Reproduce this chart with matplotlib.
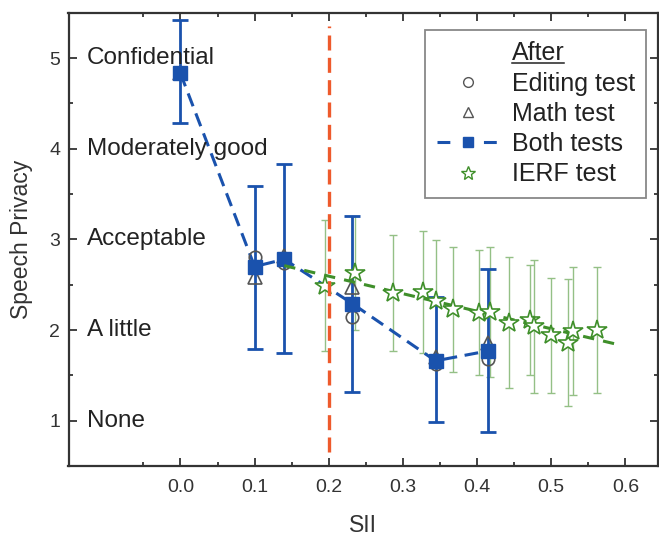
import matplotlib
matplotlib.use('Agg')
import matplotlib.pyplot as plt
from matplotlib.lines import Line2D
from matplotlib.ticker import FixedLocator, MultipleLocator, FormatStrFormatter
from matplotlib.transforms import IdentityTransform

plt.rcParams['font.family'] = ['Liberation Sans', 'DejaVu Sans']

# --------------------------------------------------
# DATA

# Both tests: mean with error bar ends
both_x = [0.0, 0.1, 0.14, 0.232, 0.344, 0.415]
both_y = [4.83, 2.70, 2.78, 2.29, 1.66, 1.77]
both_lo = [4.28, 1.79, 1.75, 1.32, 0.98, 0.88]
both_hi = [5.42, 3.59, 3.83, 3.26, 2.36, 2.67]

# Single tests at the same SII values
editing_y = [4.83, 2.81, 2.74, 2.14, 1.62, 1.68]
math_y = [4.83, 2.59, 2.82, 2.47, 1.70, 1.86]

# IERF test
ierf_x = [0.195, 0.235, 0.287, 0.327, 0.344, 0.368, 0.402, 0.417,
          0.443, 0.472, 0.477, 0.500, 0.523, 0.530, 0.562]
ierf_y = [2.49, 2.63, 2.41, 2.42, 2.32, 2.23, 2.19, 2.20,
          2.08, 2.11, 2.04, 1.94, 1.86, 1.99, 2.00]
ierf_err = [0.72, 0.63, 0.64, 0.67, 0.67, 0.69, 0.69, 0.72,
            0.72, 0.61, 0.73, 0.63, 0.70, 0.71, 0.70]

# IERF trend line end points
fit_x = [0.14, 0.595]
fit_y = [2.71, 1.83]

sii_limit = 0.2
privacy_levels = [1, 2, 3, 4, 5]
privacy_names = ['None', 'A little', 'Acceptable', 'Moderately good', 'Confidential']
x_major = [0.0, 0.1, 0.2, 0.3, 0.4, 0.5, 0.6]
x_minor = [-0.05, 0.05, 0.15, 0.25, 0.35, 0.45, 0.55]

# --------------------------------------------------

blue = '#1a52ad'
green = '#3f8f2a'
light_green = '#94c086'
red = '#ee5a2c'
grey = '#555555'
dark = '#333333'

fig = plt.figure(figsize=(6.59, 5.36), dpi=100)
ax = fig.add_axes([68.5 / 659, 1 - 466 / 536, (658 - 68.5) / 659, (466 - 12.7) / 536])

# Both tests error bars + dashed line
yerr = [[y - lo for y, lo in zip(both_y, both_lo)],
        [hi - y for y, hi in zip(both_y, both_hi)]]
ax.errorbar(both_x, both_y, yerr=yerr, fmt='none', ecolor=blue,
            elinewidth=2, capsize=6, capthick=2, zorder=2)
ax.plot(both_x, both_y, color=blue, lw=2.2, dashes=(4.5, 2.5), zorder=2)

# single tests
ax.plot(both_x, editing_y, ls='none', marker='o', ms=9, mfc='none',
        mec=grey, mew=1.2, zorder=3)
ax.plot(both_x, math_y, ls='none', marker='^', ms=10, mfc='none',
        mec=grey, mew=1.2, zorder=3)
ax.plot(both_x, both_y, ls='none', marker='s', ms=10, color=blue,
        mec=blue, zorder=4)

# IERF
ax.errorbar(ierf_x, ierf_y, yerr=ierf_err, fmt='none', ecolor=light_green,
            elinewidth=1, capsize=3, capthick=1, zorder=1.5)
ax.plot(fit_x, fit_y, color=green, lw=2.2, dashes=(3.7, 3), zorder=5)
ax.plot(ierf_x, ierf_y, ls='none', marker='*', ms=15, mfc='white',
        mec=green, mew=1.2, zorder=6)

# SII = 0.2 line
ax.axvline(sii_limit, ymin=0.03, ymax=0.97, color=red, lw=2.4,
           dashes=(4.5, 2.2), zorder=7)

# privacy level names
for lvl, name in zip(privacy_levels, privacy_names):
    ax.text(0.031, lvl, name, transform=ax.get_yaxis_transform(),
            fontsize=17.5, va='center', ha='left', color='#222222')

# axes
ax.set_xlim(-0.151, 0.644)
ax.set_ylim(0.5, 5.5)
ax.xaxis.set_major_locator(FixedLocator(x_major))
ax.xaxis.set_minor_locator(FixedLocator(x_minor))
ax.xaxis.set_major_formatter(FormatStrFormatter('%.1f'))
ax.yaxis.set_major_locator(FixedLocator(privacy_levels))
ax.yaxis.set_minor_locator(MultipleLocator(0.5))
ax.tick_params(which='both', direction='in', top=True, right=True,
               color=dark, width=1.3)
ax.tick_params(which='major', length=6, labelsize=14, labelcolor=dark)
ax.tick_params(which='minor', length=3)
ax.tick_params(axis='x', which='major', pad=9)
ax.tick_params(axis='y', which='major', pad=6)
for sp in ax.spines.values():
    sp.set_linewidth(1.6)
    sp.set_color(dark)

ax.set_xlabel('SII', fontsize=16.5, color=dark)
ax.set_ylabel('Speech Privacy', fontsize=16.5, color=dark)
ax.xaxis.set_label_coords(0.5, -0.105)
ax.yaxis.set_label_coords(-0.06, 0.5)

# legend
handles = [
    Line2D([], [], ls='none'),
    Line2D([], [], ls='none', marker='o', ms=7, mfc='none', mec=grey, mew=1),
    Line2D([], [], ls='none', marker='^', ms=7, mfc='none', mec=grey, mew=1),
    Line2D([], [], color=blue, lw=2.2, dashes=(4.2, 11), marker='s', ms=7),
    Line2D([], [], ls='none', marker='*', ms=10, mfc='white', mec=green, mew=1),
]
labels = ['After', 'Editing test', 'Math test', 'Both tests', 'IERF test']
leg = ax.legend(handles, labels, loc='upper right', bbox_to_anchor=(0.9796, 0.9618),
                borderaxespad=0, fontsize=18, handlelength=2.5, handletextpad=0.5,
                labelspacing=0.25, borderpad=0.45, fancybox=False, framealpha=1,
                edgecolor='#888888')
leg.get_frame().set_linewidth(1.3)
for t in leg.get_texts():
    t.set_color('#222222')

# underline "After"
fig.canvas.draw()
bb = leg.get_texts()[0].get_window_extent()
fig.add_artist(Line2D([bb.x0, bb.x1], [bb.y0 + 2.5, bb.y0 + 2.5],
                      transform=IdentityTransform(), color='#222222', lw=1.1))

fig.savefig('out.png', dpi=100)
